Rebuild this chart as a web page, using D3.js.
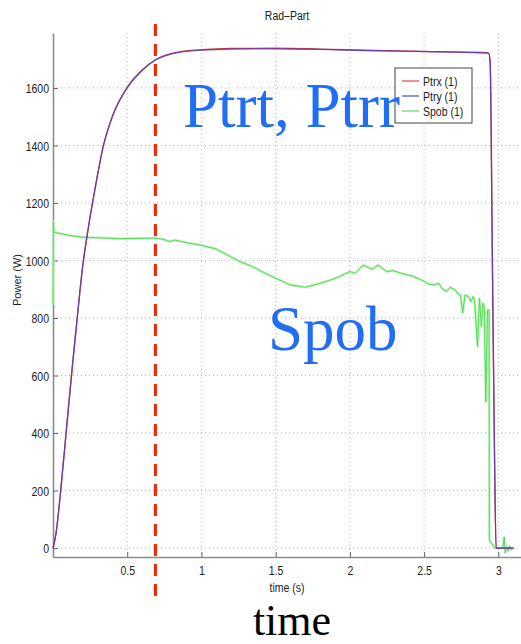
<!DOCTYPE html>
<html lang="en">
<head>
<meta charset="UTF-8">
<script src="https://d3js.org/d3.v7.min.js"></script>
<title>Rad-Part</title>
<style>
  body { margin: 0; background: #fff; }
</style>
</head>
<body>
<script>
// Chart data
const xTicks = [0.5, 1, 1.5, 2, 2.5, 3];
const yTicks = [0, 200, 400, 600, 800, 1000, 1200, 1400, 1600];
const markerTime = 0.69;

const ptrTime  = [0, 0.02, 0.05, 0.09, 0.13, 0.165, 0.2, 0.24, 0.28, 0.34, 0.4, 0.5, 0.6, 0.69, 0.8, 0.9, 1.0, 1.2, 1.5, 1.8, 2.1, 2.5, 2.9, 2.935, 2.945, 2.96, 2.975, 2.985, 3.1];
const ptrxVals = [0, 50, 190, 410, 630, 810, 980, 1120, 1240, 1400, 1502, 1602, 1662, 1698, 1720, 1729, 1733, 1737, 1738, 1735, 1731, 1727, 1723, 1721, 1690, 1000, 300, 0, 0];
const ptryVals = [0, 50, 190, 410, 630, 810, 980, 1120, 1240, 1400, 1500, 1600, 1660, 1697, 1718, 1727, 1731, 1735, 1736, 1734, 1730, 1726, 1722, 1720, 1690, 1000, 300, 0, 0];

const spobTime = [0, 0.002, 0.008, 0.1, 0.2, 0.45, 0.6, 0.69, 0.73, 0.79, 0.82, 0.9, 0.99, 1.1, 1.2, 1.26, 1.33, 1.44, 1.51, 1.6, 1.7, 1.78, 1.87, 1.93, 2.0, 2.035, 2.09, 2.15, 2.19, 2.25, 2.29, 2.35, 2.42, 2.47, 2.5, 2.52, 2.56, 2.6, 2.62, 2.65, 2.675, 2.71, 2.73, 2.745, 2.76, 2.776, 2.8, 2.815, 2.83, 2.84, 2.86, 2.873, 2.886, 2.896, 2.905, 2.916, 2.927, 2.938, 2.94, 2.956, 2.978, 3.03, 3.04, 3.046, 3.055, 3.065, 3.075, 3.085, 3.1, 3.11];
const spobVals = [845, 1135, 1098, 1088, 1081, 1076, 1077, 1078, 1075, 1066, 1071, 1062, 1054, 1040, 1012, 996, 982, 953, 936, 915, 907, 918, 932, 944, 962, 955, 984, 969, 984, 961, 965, 955, 946, 935, 928, 920, 915, 920, 903, 892, 907, 897, 883, 880, 818, 880, 874, 857, 874, 863, 700, 868, 770, 851, 840, 509, 828, 828, 28, 16, 0, 0, 38, -17, 5, -10, 8, -5, 0, 0];

const legendNames = ["Ptrx (1)", "Ptry (1)", "Spob (1)"];
const legendColors = ["#e07070", "#7070d0", "#80e080"];

const width = 521, height = 644;
const sans = "'Liberation Sans', Arial, sans-serif";
const serif = "'Liberation Serif', 'Times New Roman', serif";

const svg = d3.select("body").append("svg")
    .attr("width", width)
    .attr("height", height)
    .style("font-family", sans);

svg.append("rect").attr("width", width).attr("height", height).attr("fill", "#fff");

const x = d3.scaleLinear().domain([0, 3.2]).range([53, 528]);
const y = d3.scaleLinear().domain([-31, 1791]).range([557, 33]);

// dotted grid
svg.append("g").selectAll("line").data(xTicks).join("line")
    .attr("x1", d => x(d)).attr("x2", d => x(d))
    .attr("y1", y.range()[1]).attr("y2", y.range()[0])
    .attr("stroke", "#b5b5b5").attr("stroke-width", 1).attr("stroke-dasharray", "1,3");
svg.append("g").selectAll("line").data(yTicks).join("line")
    .attr("x1", x.range()[0]).attr("x2", x.range()[1])
    .attr("y1", d => y(d)).attr("y2", d => y(d))
    .attr("stroke", "#b5b5b5").attr("stroke-width", 1).attr("stroke-dasharray", "1,3");

// axes
const xAxis = d3.axisBottom(x).tickValues(xTicks).tickFormat(d3.format("")).tickSizeInner(-5).tickSizeOuter(0);
const yAxis = d3.axisLeft(y).tickValues(yTicks).tickFormat(d3.format("d")).tickSizeInner(-5).tickSizeOuter(0).tickPadding(4);

const gx = svg.append("g").attr("transform", `translate(0,${y.range()[0]})`).call(xAxis);
const gy = svg.append("g").attr("transform", `translate(${x.range()[0]},0)`).call(yAxis);

[gx, gy].forEach(g => {
    g.attr("font-family", null).attr("font-size", null);
    g.select(".domain").attr("stroke", "#8c8c8c").attr("stroke-width", 1.6);
    g.selectAll(".tick line").attr("stroke", "#666");
    g.selectAll(".tick text").style("font-size", "10.5px").attr("fill", "#222")
        .style("font-family", sans);
});
gx.selectAll(".tick text").attr("y", null).attr("dy", "0.35em")
    .attr("transform", "translate(0,13.5) scale(1,1.25)");
gy.selectAll(".tick text").attr("dy", "0.35em")
    .attr("transform", "translate(-4,0) scale(1,1.25)").attr("x", 0);

// lines
const line = d3.line().x(d => x(d[0])).y(d => y(d[1]));
const smooth = d3.line().curve(d3.curveMonotoneX).x(d => x(d[0])).y(d => y(d[1]));

const spob = spobTime.map((t, i) => [t, spobVals[i]]);
const ptrx = ptrTime.map((t, i) => [t, ptrxVals[i]]);
const ptry = ptrTime.map((t, i) => [t, ptryVals[i]]);

svg.append("path").datum(spob).attr("d", line)
    .attr("fill", "none").attr("stroke", "#c4f2c4").attr("stroke-width", 2.6).attr("stroke-linejoin", "round");
svg.append("path").datum(spob).attr("d", line)
    .attr("fill", "none").attr("stroke", "#55dd55").attr("stroke-width", 1).attr("stroke-linejoin", "round");
svg.append("path").datum(ptrx).attr("d", smooth)
    .attr("fill", "none").attr("stroke", "#d03a3a").attr("stroke-width", 1.4);
svg.append("path").datum(ptry).attr("d", smooth)
    .attr("fill", "none").attr("stroke", "#4a3ccc").attr("stroke-width", 1.2).attr("stroke-opacity", 0.8);

// red dashed marker
svg.append("line")
    .attr("x1", x(markerTime)).attr("x2", x(markerTime))
    .attr("y1", 24).attr("y2", 600)
    .attr("stroke", "#ff2200").attr("stroke-width", 3).attr("stroke-dasharray", "12,8");

// title and labels
svg.append("text").attr("transform", "translate(287,15) scale(1,1.25)")
    .attr("text-anchor", "middle").attr("dy", "0.35em").style("font-size", "10.5px").attr("fill", "#222")
    .text("Rad\u2013Part");
svg.append("text").attr("transform", "translate(287,588) scale(1,1.2)")
    .attr("text-anchor", "middle").attr("dy", "0.35em").style("font-size", "10.5px").attr("fill", "#222")
    .text("time (s)");
svg.append("text").attr("transform", "translate(17,280) rotate(-90) scale(1.1,1.1)")
    .attr("text-anchor", "middle").attr("dy", "0.35em").style("font-size", "10px").attr("fill", "#222")
    .text("Power (W)");

// legend
const lg = svg.append("g").attr("transform", "translate(395,68)");
lg.append("rect").attr("width", 77).attr("height", 55)
    .attr("fill", "#fff").attr("stroke", "#444").attr("stroke-width", 1);
const rows = lg.selectAll("g").data(legendNames).join("g")
    .attr("transform", (d, i) => `translate(0,${13 + i * 15})`);
rows.append("line").attr("x1", 7).attr("x2", 24)
    .attr("stroke", (d, i) => legendColors[i]).attr("stroke-width", 1.5);
rows.append("text").attr("transform", "translate(28,0) scale(1,1.25)")
    .attr("dy", "0.35em").style("font-size", "10.5px").attr("fill", "#222")
    .text(d => d);

// big annotations
svg.append("text").attr("x", 183).attr("y", 127).style("font-family", serif)
    .style("font-size", "63px").attr("fill", "#1f6ef5").text("Ptrt, Ptrr");
svg.append("text").attr("x", 268).attr("y", 350).style("font-family", serif)
    .style("font-size", "63px").attr("fill", "#1f6ef5").text("Spob");
svg.append("text").attr("x", 292).attr("y", 635).attr("text-anchor", "middle").style("font-family", serif)
    .style("font-size", "44px").attr("fill", "#000").text("time");
</script>
</body>
</html>
